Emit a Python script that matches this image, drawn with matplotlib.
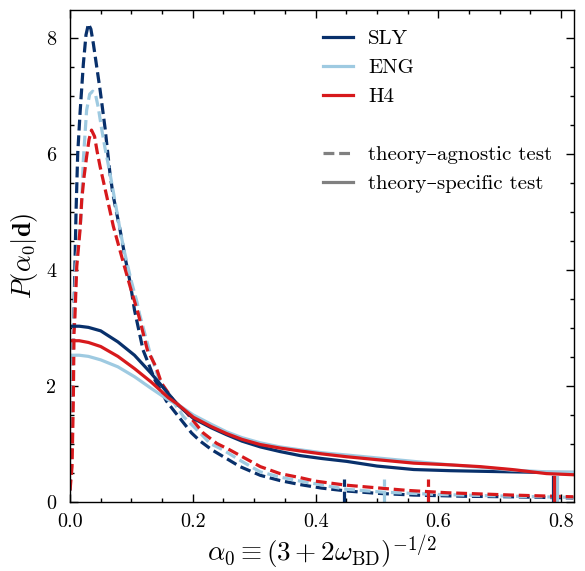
import matplotlib
matplotlib.use("Agg")
import matplotlib.pyplot as plt
from matplotlib.lines import Line2D
from matplotlib.ticker import MultipleLocator, FormatStrFormatter

plt.rcParams['font.family'] = ['cmr10', 'DejaVu Serif']
plt.rcParams['mathtext.fontset'] = 'cm'
plt.rcParams['axes.formatter.use_mathtext'] = True
plt.rcParams['axes.unicode_minus'] = False

# ---------------- data ----------------
eos_names = ["SLY", "ENG", "H4"]
eos_colors = ["#08306b", "#9ecae1", "#d7191c"]

# theory-agnostic test (dashed)
sly_ag_x = [0.0, 0.002, 0.004, 0.0065, 0.0098, 0.0125, 0.0163, 0.0217, 0.026, 0.030,
            0.034, 0.038, 0.0435, 0.049, 0.057, 0.065, 0.070, 0.0815, 0.090,
            0.098, 0.105, 0.119, 0.1385, 0.157, 0.171, 0.198, 0.212, 0.231, 0.277,
            0.31, 0.342, 0.375, 0.41, 0.451, 0.50, 0.56, 0.64, 0.72, 0.82]
sly_ag_y = [0.2, 1.3, 2.3, 3.3, 5.0, 6.0, 6.7, 7.55, 8.05, 8.24,
            8.15, 7.9, 7.5, 7.1, 6.45, 5.67, 5.3, 4.69, 4.2,
            3.78, 3.31, 2.62, 2.1, 1.74, 1.55, 1.19, 1.05, 0.90, 0.61,
            0.46, 0.37, 0.30, 0.24, 0.19, 0.15, 0.12, 0.10, 0.09, 0.07]

eng_ag_x = [0.0, 0.002, 0.004, 0.0065, 0.0098, 0.014, 0.018, 0.0217, 0.027, 0.032,
            0.037, 0.042, 0.046, 0.052, 0.057, 0.065, 0.073, 0.0815, 0.088, 0.100,
            0.109, 0.113, 0.129, 0.147, 0.170, 0.185, 0.212, 0.228, 0.249, 0.28,
            0.31, 0.342, 0.375, 0.45, 0.51, 0.60, 0.72, 0.82]
eng_ag_y = [0.2, 1.3, 2.3, 3.3, 4.1, 4.5, 4.9, 5.9, 6.75, 7.03,
            7.08, 7.0, 6.8, 6.4, 6.1, 5.67, 5.2, 4.69, 4.34, 3.80,
            3.45, 3.25, 2.62, 2.05, 1.70, 1.47, 1.19, 1.01, 0.90, 0.70,
            0.52, 0.43, 0.36, 0.22, 0.17, 0.13, 0.10, 0.08]

h4_ag_x = [0.0, 0.0033, 0.0054, 0.0065, 0.008, 0.011, 0.0163, 0.019, 0.0228, 0.027,
           0.031, 0.035, 0.040, 0.044, 0.049, 0.060, 0.0706, 0.087, 0.098, 0.111,
           0.126, 0.140, 0.149, 0.168, 0.189, 0.217, 0.239, 0.26, 0.31, 0.342,
           0.375, 0.40, 0.45, 0.505, 0.55, 0.614, 0.72, 0.82]
h4_ag_y = [0.2, 0.61, 1.76, 2.91, 3.2, 4.06, 4.69, 5.2, 5.6, 5.95,
           6.25, 6.41, 6.3, 6.05, 5.78, 5.26, 4.75, 4.12, 3.71, 3.25,
           2.62, 2.33, 2.05, 1.76, 1.55, 1.19, 1.01, 0.90, 0.61, 0.49,
           0.42, 0.36, 0.29, 0.24, 0.20, 0.16, 0.12, 0.09]

# theory-specific test (solid)
sp_x = [0.0, 0.015, 0.03, 0.05, 0.078, 0.105, 0.132, 0.160, 0.176, 0.201,
        0.23, 0.255, 0.28, 0.31, 0.342, 0.375, 0.41, 0.451, 0.50, 0.56,
        0.62, 0.668, 0.72, 0.776, 0.82]
sly_sp_y = [3.03, 3.03, 3.01, 2.95, 2.76, 2.53, 2.22, 1.87, 1.67, 1.44,
            1.28, 1.16, 1.05, 0.95, 0.87, 0.80, 0.75, 0.70, 0.62, 0.56,
            0.54, 0.53, 0.52, 0.51, 0.51]
eng_sp_y = [2.53, 2.53, 2.51, 2.45, 2.33, 2.16, 1.96, 1.76, 1.68, 1.50,
            1.34, 1.21, 1.11, 1.02, 0.95, 0.90, 0.85, 0.81, 0.76, 0.70,
            0.64, 0.60, 0.55, 0.52, 0.51]
h4_sp_y = [2.78, 2.78, 2.75, 2.68, 2.51, 2.30, 2.07, 1.80, 1.68, 1.46,
           1.30, 1.18, 1.08, 0.99, 0.93, 0.88, 0.83, 0.78, 0.73, 0.67,
           0.64, 0.61, 0.56, 0.49, 0.47]

# 90% upper bounds
bound_agnostic = [0.447, 0.512, 0.583]
bound_specific = [0.7865, 0.793, 0.7886]

# ---------------- plot ----------------
fig = plt.figure(figsize=(5.85, 5.71), dpi=100)
ax = fig.add_axes([0.1197, 0.1208, 0.8615, 0.8617])

ag_x = [sly_ag_x, eng_ag_x, h4_ag_x]
ag_y = [sly_ag_y, eng_ag_y, h4_ag_y]
sp_y = [sly_sp_y, eng_sp_y, h4_sp_y]

lw = 2.3
for i, c in enumerate(eos_colors):
    ax.plot(ag_x[i], ag_y[i], color=c, lw=lw, ls='--', dashes=(3.4, 1.5))
for i, c in enumerate(eos_colors):
    ax.plot(sp_x, sp_y[i], color=c, lw=lw, ls='-')
for i, c in enumerate(eos_colors):
    ax.axvline(bound_agnostic[i], ymin=0, ymax=0.046, color=c, lw=lw, ls='--',
               dashes=(3.4, 1.5))
    ax.axvline(bound_specific[i], ymin=0, ymax=0.05, color=c, lw=lw, ls='-')

ax.set_xlim(0, 0.821)
ax.set_ylim(0, 8.48)
ax.xaxis.set_major_locator(MultipleLocator(0.2))
ax.xaxis.set_minor_locator(MultipleLocator(0.05))
ax.yaxis.set_major_locator(MultipleLocator(2))
ax.yaxis.set_minor_locator(MultipleLocator(0.5))
ax.xaxis.set_major_formatter(FormatStrFormatter('%.1f'))
ax.yaxis.set_major_formatter(FormatStrFormatter('%d'))
ax.tick_params(which='both', direction='in', top=True, right=True, labelsize=14.5)
ax.tick_params(which='major', length=6, width=1)
ax.tick_params(which='minor', length=3, width=1)
ax.tick_params(axis='x', which='major', pad=8)
ax.tick_params(axis='y', which='major', pad=10)
for s in ax.spines.values():
    s.set_linewidth(1)

ax.set_xlabel(r'$\alpha_0 \equiv (3 + 2\omega_{\rm BD})^{-1/2}$', fontsize=19.5, labelpad=2)
ax.set_ylabel(r'$P(\alpha_0|\mathbf{d})$', fontsize=19, labelpad=4)

handles = [Line2D([], [], color=c, lw=lw) for c in eos_colors]
handles.append(Line2D([], [], color='none'))
handles.append(Line2D([], [], color='gray', lw=lw, ls='--', dashes=(3.4, 1.5)))
handles.append(Line2D([], [], color='gray', lw=lw, ls='-'))
labels = eos_names + [' ', 'theory–agnostic test', 'theory–specific test']
ax.legend(handles, labels, loc='upper left', bbox_to_anchor=(0.486, 0.977),
          frameon=False, fontsize=15, handlelength=1.45, handletextpad=0.7,
          labelspacing=0.5, borderaxespad=0)

fig.savefig('out.png', dpi=100)
